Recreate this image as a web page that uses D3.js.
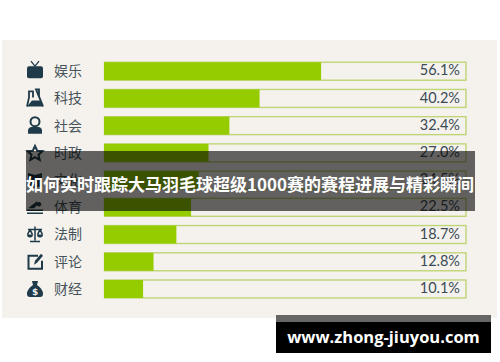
<!DOCTYPE html>
<html>
<head>
<meta charset="utf-8">
<script src="https://cdn.jsdelivr.net/npm/d3@7"></script>
<style>
    html, body { margin: 0; padding: 0; background: #fff; }
    svg { display: block; }
</style>
</head>
<body>
<div id="chart"></div>
<script>
const categories = ["娱乐", "科技", "社会", "时政", "文化", "体育", "法制", "评论", "财经"];
const shares = [56.1, 40.2, 32.4, 27.0, 24.5, 22.5, 18.7, 12.8, 10.1];
const titleText = "如何实时跟踪大马羽毛球超级1000赛的赛程进展与精彩瞬间";
const siteText = "www.zhong-jiuyou.com";

const ink = "#1f3a48";

const svg = d3.select("#chart").append("svg")
    .attr("width", 500)
    .attr("height", 362);

// panel behind the chart
svg.append("rect")
    .attr("x", 2).attr("y", 40)
    .attr("width", 495).attr("height", 278)
    .attr("fill", "#f5f2ed");

const x = d3.scaleLinear().domain([0, 100]).range([104, 491]);
const y = d3.scaleBand()
    .domain(categories)
    .range([57.6, 302.6])
    .paddingInner(0.34)
    .paddingOuter(0.17);

// category labels
const axis = svg.append("g")
    .attr("transform", "translate(82,0)")
    .call(d3.axisLeft(y).tickSize(0).tickPadding(0));
axis.select(".domain").remove();
axis.selectAll("text")
    .attr("dy", "0.35em")
    .style("font-family", "'Noto Sans CJK SC'")
    .style("font-size", "14px")
    .style("fill", "#46525a");

// tracks
svg.selectAll(".track")
    .data(categories)
    .enter()
    .append("rect")
    .attr("class", "track")
    .attr("x", 104.5)
    .attr("y", d => y(d))
    .attr("width", 361.5)
    .attr("height", y.bandwidth())
    .attr("fill", "none")
    .attr("stroke", "#bfd578")
    .attr("stroke-width", 1.4);

// bars
svg.selectAll(".bar")
    .data(shares)
    .enter()
    .append("rect")
    .attr("class", "bar")
    .attr("x", x(0))
    .attr("y", (d, i) => y(categories[i]))
    .attr("width", d => x(d) - x(0))
    .attr("height", y.bandwidth())
    .attr("fill", "#94cc00");

// percent labels
svg.selectAll(".pct")
    .data(shares)
    .enter()
    .append("text")
    .attr("class", "pct")
    .attr("x", 460)
    .attr("y", (d, i) => y(categories[i]) + y.bandwidth() / 2 - 1)
    .attr("dy", "0.35em")
    .attr("text-anchor", "end")
    .style("font-family", "Lato")
    .style("font-size", "14.5px")
    .style("fill", "#3a4a55")
    .text(d => d.toFixed(1) + "%");

// icons, one small glyph per row, drawn around 0,0
const icons = [
    g => { // tv
        g.append("rect").attr("x", -8).attr("y", -5).attr("width", 16).attr("height", 12).attr("rx", 2).attr("fill", ink);
        g.append("path").attr("d", "M-4,-10L0,-5L4,-10").attr("fill", "none").attr("stroke", ink).attr("stroke-width", 1.2);
    },
    g => { // flask
        g.append("path").attr("d", "M-8,8L-6,-1L-6,-7L-2,-7L-2,-1M1,-9L4,-9L4,-2L8,8Z").attr("fill", "none").attr("stroke", ink).attr("stroke-width", 1.8);
        g.append("path").attr("d", "M-8,8L-3,2L5,2L8,8Z").attr("fill", ink);
    },
    g => { // person
        g.append("circle").attr("cy", -4).attr("r", 4.5).attr("fill", "none").attr("stroke", ink).attr("stroke-width", 2);
        g.append("path").attr("d", "M-7,8L-7,4Q-6,1 -2,1L2,1Q6,1 7,4L7,8Z").attr("fill", ink);
    },
    g => { // star
        g.append("path").attr("d", "M0,-7L2.2,-2.2L7.5,-1.8L3.5,1.8L4.7,7L0,4.2L-4.7,7L-3.5,1.8L-7.5,-1.8L-2.2,-2.2Z").attr("fill", "none").attr("stroke", ink).attr("stroke-width", 2);
    },
    g => { // book
        g.append("path").attr("d", "M-7,-7L0,-5L7,-7L7,6L0,8L-7,6Z").attr("fill", ink);
    },
    g => { // swimmer
        g.append("circle").attr("cx", 4).attr("cy", -3).attr("r", 2.2).attr("fill", ink);
        g.append("path").attr("d", "M-7,1L2,-6L3,-3L-1,1Z").attr("fill", ink);
        g.append("path").attr("d", "M-8,3H8M-8,6H8").attr("stroke", ink).attr("stroke-width", 1.5);
    },
    g => { // scales
        g.append("path").attr("d", "M0,-8V6M-5,7H5M-7,-5H7M-5,-5L-7.5,0M-5,-5L-2.5,0M5,-5L2.5,0M5,-5L7.5,0").attr("fill", "none").attr("stroke", ink).attr("stroke-width", 1.5);
        g.append("path").attr("d", "M-8,0A3,3 0 0 0 -2,0ZM2,0A3,3 0 0 0 8,0Z").attr("fill", ink);
    },
    g => { // edit box
        g.append("path").attr("d", "M3,-6H-6.5V7H7V-1").attr("fill", "none").attr("stroke", ink).attr("stroke-width", 2);
        g.append("path").attr("d", "M-1,3L0,-1L6,-8L8,-6L2,1Z").attr("fill", ink);
    },
    g => { // money bag
        g.append("path").attr("d", "M-3,-8L3,-8L2,-4Q8,0 8,5Q8,8 5,8L-5,8Q-8,8 -8,5Q-8,0 -2,-4Z").attr("fill", ink);
        g.append("text").attr("y", 6.5).attr("text-anchor", "middle")
            .style("font-family", "'DejaVu Sans'").style("font-weight", "bold").style("font-size", "9px").style("fill", "#f4f1ec").text("$");
    }
];
categories.forEach((c, i) => {
    const g = svg.append("g")
        .attr("transform", "translate(35," + (y(c) + y.bandwidth() / 2) + ")");
    icons[i](g);
});

// title strip over the chart
svg.append("rect")
    .attr("x", 26).attr("y", 151)
    .attr("width", 449).attr("height", 60)
    .attr("fill", "#000")
    .attr("fill-opacity", 0.6);
svg.append("text")
    .attr("x", 250).attr("y", 185)
    .attr("dy", "0.35em")
    .attr("text-anchor", "middle")
    .style("font-family", "'Noto Sans CJK SC'")
    .style("font-weight", "bold")
    .style("font-size", "17px")
    .style("fill", "#fff")
    .text(titleText);

// site tag, bottom right
svg.append("rect")
    .attr("x", 276).attr("y", 315)
    .attr("width", 215).attr("height", 7)
    .attr("fill", "#666");
svg.append("rect")
    .attr("x", 276).attr("y", 322)
    .attr("width", 215).attr("height", 31)
    .attr("fill", "#000");
svg.append("text")
    .attr("x", 383.5).attr("y", 337)
    .attr("dy", "0.35em")
    .attr("text-anchor", "middle")
    .style("font-family", "'Open Sans'")
    .style("font-weight", "bold")
    .style("font-size", "16.5px")
    .style("fill", "#fff")
    .text(siteText);
</script>
</body>
</html>
